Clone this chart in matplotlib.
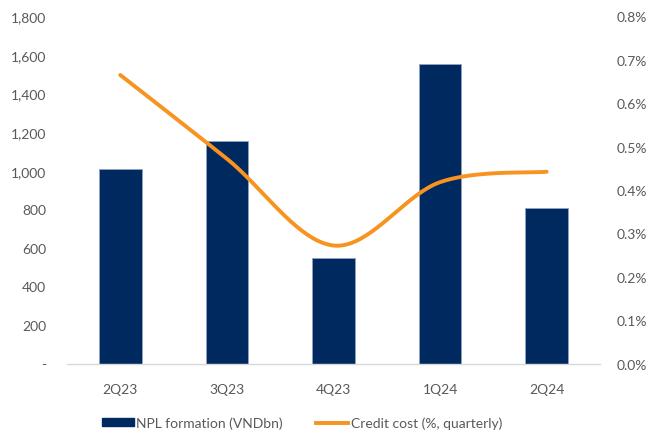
import numpy as np
import matplotlib.pyplot as plt
from matplotlib.ticker import FuncFormatter
from matplotlib.lines import Line2D
from matplotlib.patches import Patch

quarters = ["2Q23", "3Q23", "4Q23", "1Q24", "2Q24"]
npl_formation = [1010, 1155, 548, 1555, 805]        # VNDbn
credit_cost = [0.665, 0.472, 0.272, 0.418, 0.442]    # %, quarterly

navy = "#002960"
orange = "#F7931E"
text_grey = "#595959"

plt.rcParams["font.family"] = ["Lato", "DejaVu Sans"]
plt.rcParams["font.size"] = 10


def smooth_curve(x, y, steps=40):
    # cubic Bezier through each point, spreadsheet-style smoothing
    x = np.asarray(x, float)
    y = np.asarray(y, float)
    pts = np.column_stack([x, y])
    ext = np.vstack([pts[0], pts, pts[-1]])
    out = []
    for i in range(len(pts) - 1):
        p0, p1, p2, p3 = ext[i], ext[i + 1], ext[i + 2], ext[i + 3]
        c1 = p1 + (p2 - p0) / 6
        c2 = p2 - (p3 - p1) / 6
        t = np.linspace(0, 1, steps)[:, None]
        seg = ((1 - t) ** 3) * p1 + 3 * ((1 - t) ** 2) * t * c1 + 3 * (1 - t) * t ** 2 * c2 + t ** 3 * p2
        out.append(seg if i == 0 else seg[1:])
    seg = np.vstack(out)
    return seg[:, 0], seg[:, 1]


fig = plt.figure(figsize=(6.5, 4.35), dpi=100)
ax = fig.add_axes([0.103, 0.162, 0.820, 0.798])
ax2 = ax.twinx()

x = np.arange(len(quarters))
ax.bar(x, npl_formation, width=0.4, color=navy, edgecolor="#8FA3C2", linewidth=0.6, zorder=2)

sx, sy = smooth_curve(x, credit_cost)
ax2.plot(sx, sy, color=orange, lw=2.8, solid_capstyle="round", zorder=3)

ax.set_xlim(-0.5, len(quarters) - 0.5)
ax.set_ylim(0, 1800)
ax.set_yticks(np.arange(0, 1801, 200))
ax.yaxis.set_major_formatter(FuncFormatter(lambda v, p: "-" if v == 0 else f"{v:,.0f}"))
ax2.set_ylim(0, 0.8)
ax2.set_yticks(np.arange(0, 0.81, 0.1))
ax2.yaxis.set_major_formatter(FuncFormatter(lambda v, p: f"{v:.1f}%"))

ax.set_xticks(x)
ax.set_xticklabels(quarters)

for a in (ax, ax2):
    for s in ("top", "left", "right", "bottom"):
        a.spines[s].set_visible(False)
    a.tick_params(length=0, colors=text_grey, labelsize=10)
ax.spines["bottom"].set_visible(True)
ax.spines["bottom"].set_color("#D9D9D9")
ax.spines["bottom"].set_linewidth(1.0)
ax.tick_params(axis="y", pad=15)
ax.tick_params(axis="x", pad=14)
ax2.tick_params(axis="y", pad=12)

handles = [
    Patch(facecolor=navy, edgecolor=navy),
    Line2D([0], [0], color=orange, lw=2.8),
]
labels = ["NPL formation (VNDbn)", "Credit cost (%, quarterly)"]
leg = fig.legend(handles, labels, loc="center", bbox_to_anchor=(302 / 650, 1 - 424 / 435),
                 ncol=2, frameon=False, fontsize=10, handlelength=2.3, handleheight=0.5,
                 handletextpad=0.2, columnspacing=2.4)
for t in leg.get_texts():
    t.set_color(text_grey)

fig.savefig("out.png", dpi=100, facecolor="white")
